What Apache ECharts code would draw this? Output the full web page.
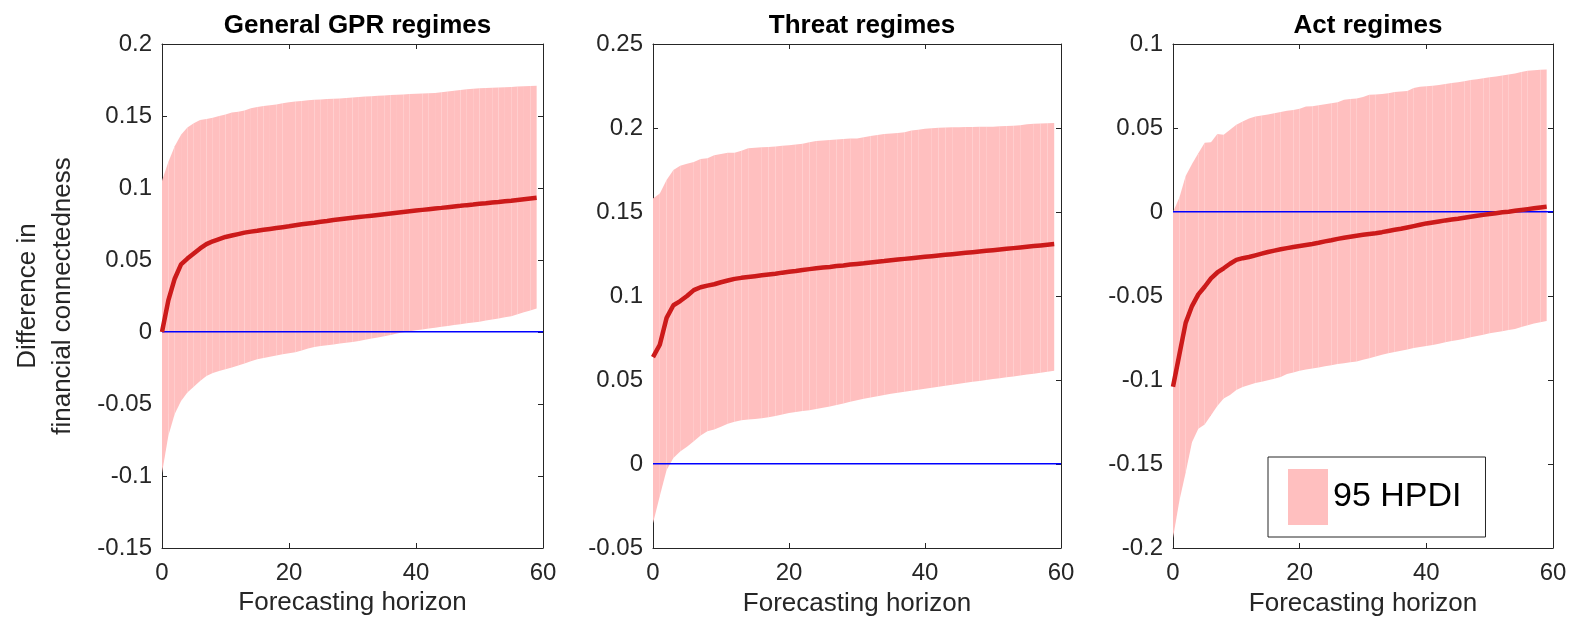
<!DOCTYPE html>
<html>
<head>
<meta charset="utf-8">
<script src="https://cdn.jsdelivr.net/npm/echarts@6/dist/echarts.min.js"></script>
<style>
  html, body { margin: 0; padding: 0; background: #fff; }
  #chart { width: 1574px; height: 623px; }
</style>
</head>
<body>
<div id="chart"></div>
<script>
// forecasting horizon 0..59
const horizon = Array.from({ length: 60 }, (_, i) => i);
// reference level drawn in blue
const zeroRef = 0;

// General GPR regimes
const gprMean = [0.000, 0.022, 0.037, 0.047, 0.051, 0.0545, 0.058, 0.061, 0.063, 0.0645,
  0.066, 0.067, 0.068, 0.069, 0.0697, 0.0703, 0.071, 0.0716, 0.0722, 0.0728,
  0.0734, 0.0741, 0.0748, 0.0754, 0.0759, 0.0765, 0.0771, 0.0778, 0.0783, 0.0788,
  0.0793, 0.0798, 0.0803, 0.0808, 0.0813, 0.0818, 0.0823, 0.0828, 0.0833, 0.0838,
  0.0843, 0.0848, 0.0853, 0.0858, 0.0862, 0.0867, 0.0872, 0.0876, 0.0881, 0.0885,
  0.089, 0.0894, 0.0899, 0.0903, 0.0908, 0.0912, 0.0917, 0.0922, 0.0927, 0.0932];
const gprUpper = [0.105, 0.118, 0.129, 0.137, 0.142, 0.145, 0.1472, 0.148, 0.1488, 0.150,
  0.151, 0.1525, 0.153, 0.1538, 0.1553, 0.1562, 0.157, 0.1575, 0.158, 0.1588,
  0.1595, 0.160, 0.1605, 0.161, 0.1612, 0.1615, 0.1618, 0.162, 0.1622, 0.1625,
  0.1628, 0.1632, 0.1635, 0.1638, 0.164, 0.1642, 0.1645, 0.1648, 0.165, 0.1652,
  0.1654, 0.1656, 0.1658, 0.166, 0.1665, 0.167, 0.1675, 0.168, 0.1685, 0.169,
  0.1692, 0.1694, 0.1696, 0.1698, 0.170, 0.1702, 0.1704, 0.1706, 0.1708, 0.171];
const gprLower = [-0.098, -0.072, -0.057, -0.048, -0.042, -0.038, -0.034, -0.0305, -0.0285, -0.027,
  -0.0258, -0.0247, -0.0233, -0.0218, -0.0203, -0.019, -0.018, -0.0172, -0.0163, -0.0155,
  -0.0148, -0.014, -0.0128, -0.0115, -0.0105, -0.0098, -0.0092, -0.0086, -0.008, -0.0075,
  -0.007, -0.0062, -0.0054, -0.0045, -0.0038, -0.003, -0.002, -0.001, -0.0002, 0.0005,
  0.0012, 0.0018, 0.0024, 0.003, 0.0036, 0.0042, 0.0048, 0.0054, 0.006, 0.0066,
  0.0072, 0.0079, 0.0086, 0.0094, 0.0102, 0.011, 0.0123, 0.0137, 0.015, 0.0163];

// Threat regimes
const threatMean = [0.0636, 0.071, 0.087, 0.0945, 0.097, 0.100, 0.1035, 0.1052, 0.1062, 0.107,
  0.1082, 0.1092, 0.1102, 0.1108, 0.1113, 0.1118, 0.1123, 0.1128, 0.1133, 0.1139,
  0.1144, 0.1149, 0.1155, 0.116, 0.1165, 0.1169, 0.1173, 0.1178, 0.1182, 0.1187,
  0.1191, 0.1195, 0.120, 0.1204, 0.1208, 0.1213, 0.1217, 0.1221, 0.1225, 0.1229,
  0.1233, 0.1237, 0.1241, 0.1245, 0.1249, 0.1253, 0.1257, 0.1261, 0.1265, 0.1269,
  0.1273, 0.1277, 0.1281, 0.1285, 0.1289, 0.1293, 0.1297, 0.1301, 0.1305, 0.1309];
const threatUpper = [0.158, 0.161, 0.169, 0.175, 0.1775, 0.1787, 0.1797, 0.1815, 0.182, 0.1838,
  0.1845, 0.1852, 0.1852, 0.1865, 0.188, 0.1882, 0.1885, 0.1887, 0.189, 0.1895,
  0.1898, 0.1902, 0.1906, 0.1915, 0.1922, 0.1926, 0.1929, 0.1932, 0.1935, 0.1937,
  0.1938, 0.1945, 0.1952, 0.1958, 0.1964, 0.1968, 0.197, 0.1975, 0.1985, 0.199,
  0.1995, 0.1998, 0.2001, 0.2003, 0.2005, 0.2005, 0.2006, 0.2006, 0.2007, 0.2007,
  0.2008, 0.201, 0.2012, 0.2014, 0.2017, 0.2022, 0.2025, 0.2027, 0.2029, 0.203];
const threatLower = [-0.0353, -0.019, -0.0036, 0.0035, 0.0075, 0.0102, 0.0135, 0.017, 0.0195, 0.0205,
  0.0222, 0.024, 0.0252, 0.026, 0.0265, 0.0268, 0.0272, 0.0278, 0.0285, 0.0295,
  0.0304, 0.031, 0.0315, 0.032, 0.0328, 0.0335, 0.0342, 0.0351, 0.036, 0.037,
  0.038, 0.0388, 0.0396, 0.0404, 0.0411, 0.0418, 0.0424, 0.043, 0.0436, 0.0442,
  0.0448, 0.0454, 0.046, 0.0466, 0.0472, 0.0478, 0.0483, 0.0489, 0.0494, 0.050,
  0.0506, 0.0511, 0.0516, 0.0521, 0.0527, 0.0532, 0.0537, 0.0543, 0.0549, 0.0555];

// Act regimes
const actMean = [-0.104, -0.085, -0.066, -0.056, -0.049, -0.0445, -0.0395, -0.036, -0.0335, -0.0308,
  -0.0285, -0.0275, -0.0268, -0.0258, -0.0248, -0.0238, -0.023, -0.0222, -0.0215, -0.0208,
  -0.0202, -0.0196, -0.019, -0.0183, -0.0175, -0.0168, -0.016, -0.0153, -0.0147, -0.0141,
  -0.0136, -0.0131, -0.0126, -0.012, -0.0113, -0.0106, -0.010, -0.0092, -0.0084, -0.0076,
  -0.0068, -0.0062, -0.0056, -0.005, -0.0045, -0.004, -0.0034, -0.0028, -0.0022, -0.0017,
  -0.0012, -0.0007, -0.0002, 0.0002, 0.0007, 0.0012, 0.0017, 0.0022, 0.0027, 0.0032];
const actUpper = [0.000, 0.0085, 0.0215, 0.0285, 0.035, 0.0412, 0.0415, 0.0465, 0.046, 0.049,
  0.052, 0.0538, 0.0556, 0.0568, 0.0574, 0.058, 0.0588, 0.0595, 0.0602, 0.0607,
  0.0615, 0.0628, 0.063, 0.0635, 0.0641, 0.0647, 0.0654, 0.0668, 0.0672, 0.0676,
  0.0685, 0.0698, 0.070, 0.0702, 0.0707, 0.0714, 0.0717, 0.072, 0.0738, 0.0745,
  0.0748, 0.0751, 0.0756, 0.0762, 0.0768, 0.0773, 0.0778, 0.0785, 0.079, 0.0796,
  0.0802, 0.0807, 0.0812, 0.0818, 0.0825, 0.0833, 0.0841, 0.0844, 0.0846, 0.0848];
const actLower = [-0.194, -0.172, -0.155, -0.137, -0.129, -0.1265, -0.121, -0.1155, -0.111, -0.109,
  -0.106, -0.1042, -0.103, -0.1018, -0.1011, -0.1002, -0.0993, -0.0982, -0.0965, -0.0955,
  -0.0945, -0.0938, -0.0932, -0.0925, -0.0918, -0.0912, -0.0905, -0.090, -0.0895, -0.089,
  -0.088, -0.087, -0.086, -0.085, -0.0841, -0.0834, -0.0826, -0.0818, -0.081, -0.0803,
  -0.0798, -0.0791, -0.0784, -0.0776, -0.0768, -0.0762, -0.0754, -0.0746, -0.0738, -0.073,
  -0.0722, -0.0716, -0.071, -0.0703, -0.0696, -0.0685, -0.0674, -0.0664, -0.0656, -0.0649];

const panels = [
  { title: 'General GPR regimes', mean: gprMean, upper: gprUpper, lower: gprLower, min: -0.15, max: 0.2, left: 162, width: 381 },
  { title: 'Threat regimes', mean: threatMean, upper: threatUpper, lower: threatLower, min: -0.05, max: 0.25, left: 653, width: 408 },
  { title: 'Act regimes', mean: actMean, upper: actUpper, lower: actLower, min: -0.2, max: 0.1, left: 1173, width: 380 }
];

const font = 'Liberation Sans, Arial, Helvetica, sans-serif';
const axisColor = '#262626';
const bandColor = '#ffbfbf';
const meanColor = '#cc1a1a';
const fmt = (v) => String(Math.round(v * 1000) / 1000);

const chart = echarts.init(document.getElementById('chart'));

const grid = [], xAxis = [], yAxis = [], series = [], title = [];

// one strip between horizon k and k+1, like the fill in the original
const bandItem = (p) => (params, api) => {
  const k = params.dataIndex;
  if (k >= horizon.length - 1) return null;
  const pts = [
    api.coord([horizon[k], p.lower[k]]),
    api.coord([horizon[k + 1], p.lower[k + 1]]),
    api.coord([horizon[k + 1], p.upper[k + 1]]),
    api.coord([horizon[k], p.upper[k]])
  ];
  return {
    type: 'polygon',
    shape: { points: pts },
    style: { fill: bandColor, stroke: null }
  };
};

// horizontal reference line across the whole plot area (thin filled rect)
const refItem = (params, api) => {
  const cs = params.coordSys;
  const y = api.coord([0, api.value(1)])[1];
  return {
    type: 'rect',
    shape: { x: cs.x, y: Math.round(y) - 1, width: cs.width, height: 1.6 },
    style: { fill: '#0000ff', stroke: null }
  };
};

panels.forEach((p, i) => {
  grid.push({ left: p.left, width: p.width, top: 44, height: 504, show: false });
  title.push({
    text: p.title,
    left: p.left + p.width / 2,
    textAlign: 'center',
    top: 8,
    textStyle: { fontFamily: font, fontSize: 26, fontWeight: 'bold', color: '#000' }
  });

  const tick = () => ({ show: true, inside: true, length: 5, lineStyle: { color: axisColor } });
  const line = () => ({ show: true, onZero: false, lineStyle: { color: axisColor, width: 1 } });

  xAxis.push({
    gridIndex: i, type: 'value', min: 0, max: 60, interval: 20, position: 'bottom',
    axisLine: line(), axisTick: tick(), splitLine: { show: false },
    axisLabel: { fontFamily: font, fontSize: 24, color: axisColor, margin: 13 },
    name: 'Forecasting horizon', nameLocation: 'middle', nameGap: i === 0 ? 40 : 43,
    nameTextStyle: { fontFamily: font, fontSize: 26, color: axisColor }
  });
  xAxis.push({
    gridIndex: i, type: 'value', min: 0, max: 60, interval: 20, position: 'top',
    axisLine: line(), axisTick: tick(), splitLine: { show: false }, axisLabel: { show: false }
  });

  const yLeft = {
    gridIndex: i, type: 'value', min: p.min, max: p.max, interval: 0.05, position: 'left',
    axisLine: line(), axisTick: tick(), splitLine: { show: false },
    axisLabel: { fontFamily: font, fontSize: 24, color: axisColor, margin: 10, formatter: fmt }
  };
  if (i === 0) {
    yLeft.name = 'Difference in\nfinancial connectedness';
    yLeft.nameLocation = 'middle';
    yLeft.nameGap = 82;
    yLeft.nameTextStyle = { fontFamily: font, fontSize: 26, color: axisColor, lineHeight: 35 };
  }
  yAxis.push(yLeft);
  yAxis.push({
    gridIndex: i, type: 'value', min: p.min, max: p.max, interval: 0.05, position: 'right',
    axisLine: line(), axisTick: tick(), splitLine: { show: false }, axisLabel: { show: false }
  });

  const xi = i * 2, yi = i * 2;
  series.push({
    type: 'custom', name: '95 HPDI', xAxisIndex: xi, yAxisIndex: yi,
    renderItem: bandItem(p),
    data: horizon.map((t, k) => [t, p.lower[k], p.upper[k]]),
    encode: { x: 0, y: [1, 2] },
    clip: true, silent: true, z: 1,
    color: bandColor, itemStyle: { color: bandColor }
  });
  series.push({
    type: 'custom', name: 'zero' + i, xAxisIndex: xi, yAxisIndex: yi,
    renderItem: refItem,
    data: [[0, zeroRef]],
    encode: { x: 0, y: 1 },
    silent: true, zlevel: 2, z: 2
  });
  series.push({
    type: 'line', name: 'mean' + i, xAxisIndex: xi, yAxisIndex: yi,
    data: horizon.map((t, k) => [t, p.mean[k]]),
    showSymbol: false, silent: true, zlevel: 2, z: 3,
    lineStyle: { color: meanColor, width: 4.5 }
  });
});

chart.setOption({
  animation: false,
  backgroundColor: '#fff',
  title,
  grid,
  xAxis,
  yAxis,
  legend: {
    data: ['95 HPDI'],
    left: 1268, top: 457,
    icon: 'rect',
    itemWidth: 40, itemHeight: 56,
    padding: [12, 24, 12, 20],
    backgroundColor: '#fff',
    borderColor: axisColor, borderWidth: 1, borderRadius: 0,
    selectedMode: false,
    itemStyle: { color: bandColor, borderWidth: 0 },
    textStyle: { fontFamily: font, fontSize: 34, color: '#000' }
  },
  series
});
</script>
</body>
</html>
